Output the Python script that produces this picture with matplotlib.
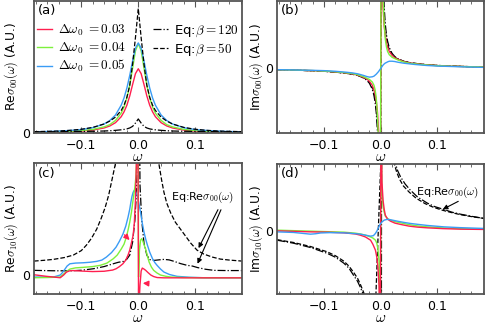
import numpy as np
import matplotlib
matplotlib.use("Agg")
import matplotlib.pyplot as plt

plt.rcParams['mathtext.fontset'] = 'cm'
plt.rcParams['font.family'] = ['DejaVu Sans']

RED = '#ff1f4f'
GREEN = '#7df03c'
BLUE = '#3a9cf5'
FRAME = '#555555'

# ---------------- (a) Re sigma_00 ----------------
xa = [-0.183, -0.16, -0.14, -0.12, -0.10, -0.08, -0.06, -0.05, -0.04, -0.03, -0.025, -0.02, -0.015, -0.01, -0.005,
      0.0, 0.005, 0.01, 0.015, 0.02, 0.025, 0.03, 0.04, 0.05, 0.06, 0.08, 0.10, 0.12, 0.14, 0.16, 0.182]
red_a = [0.005, 0.006, 0.0075, 0.01, 0.014, 0.022, 0.038, 0.053, 0.078, 0.123, 0.16, 0.21, 0.28, 0.366, 0.448,
         0.485, 0.448, 0.366, 0.28, 0.21, 0.16, 0.123, 0.078, 0.053, 0.038, 0.022, 0.014, 0.01, 0.0075, 0.006, 0.005]
green_a = [0.006, 0.008, 0.010, 0.013, 0.018, 0.027, 0.046, 0.063, 0.095, 0.15, 0.197, 0.265, 0.36, 0.49, 0.62,
           0.675, 0.62, 0.49, 0.36, 0.265, 0.197, 0.15, 0.095, 0.063, 0.046, 0.027, 0.018, 0.013, 0.010, 0.008, 0.006]
blue_a = [0.009, 0.011, 0.014, 0.019, 0.026, 0.040, 0.068, 0.094, 0.136, 0.21, 0.265, 0.34, 0.435, 0.544, 0.64,
          0.68, 0.64, 0.544, 0.435, 0.34, 0.265, 0.21, 0.136, 0.094, 0.068, 0.040, 0.026, 0.019, 0.014, 0.011, 0.009]
b50_a = [0.01, 0.012, 0.015, 0.02, 0.028, 0.042, 0.068, 0.09, 0.12, 0.17, 0.21, 0.27, 0.36, 0.52, 0.72,
         0.94, 0.72, 0.52, 0.36, 0.27, 0.21, 0.17, 0.12, 0.09, 0.068, 0.042, 0.028, 0.02, 0.015, 0.012, 0.01]
b120_a = [0.008, 0.009, 0.01, 0.011, 0.012, 0.013, 0.015, 0.017, 0.02, 0.024, 0.027, 0.031, 0.038, 0.05, 0.075,
          0.106, 0.075, 0.05, 0.038, 0.031, 0.027, 0.024, 0.02, 0.017, 0.015, 0.013, 0.012, 0.011, 0.01, 0.009, 0.008]

# ---------------- (b) Im sigma_00 ----------------
xb = [-0.183, -0.15, -0.12, -0.1, -0.08, -0.06, -0.05, -0.04, -0.03, -0.025, -0.02, -0.015, -0.012, -0.01, -0.008,
      -0.006, -0.004, -0.002, -0.001,
      0.001, 0.002, 0.004, 0.006, 0.008, 0.01, 0.012, 0.015, 0.02, 0.025, 0.03, 0.04, 0.05, 0.06, 0.08, 0.1,
      0.12, 0.15, 0.182]
b120_b = [-0.02, -0.028, -0.037, -0.045, -0.058, -0.077, -0.09, -0.11, -0.15, -0.18, -0.23, -0.32, -0.42, -0.52,
          -0.68, -0.95, -1.5, -3, -6,
          6, 3, 1.5, 0.95, 0.68, 0.52, 0.42, 0.32, 0.23, 0.18, 0.15, 0.11, 0.09, 0.077, 0.058, 0.045, 0.037, 0.028, 0.02]
b50_b = [-0.02, -0.028, -0.037, -0.045, -0.058, -0.077, -0.09, -0.11, -0.145, -0.17, -0.21, -0.29, -0.36, -0.45,
         -0.58, -0.8, -1.2, -2.4, -5,
         5, 2.4, 1.2, 0.8, 0.58, 0.45, 0.36, 0.29, 0.21, 0.17, 0.145, 0.11, 0.09, 0.077, 0.058, 0.045, 0.037, 0.028, 0.02]
red_b = [-0.02, -0.027, -0.035, -0.043, -0.055, -0.073, -0.085, -0.105, -0.14, -0.16, -0.2, -0.26, -0.33, -0.4,
         -0.5, -0.65, -0.95, -1.6, -3,
         3, 1.6, 0.95, 0.65, 0.5, 0.4, 0.33, 0.26, 0.2, 0.16, 0.14, 0.105, 0.085, 0.073, 0.055, 0.043, 0.035, 0.027, 0.02]
green_b = [-0.02, -0.027, -0.034, -0.042, -0.053, -0.07, -0.08, -0.1, -0.13, -0.15, -0.17, -0.21, -0.26, -0.33,
           -0.45, -0.7, -1.1, -2, -4,
           4, 2, 1.1, 0.7, 0.45, 0.33, 0.26, 0.21, 0.17, 0.15, 0.13, 0.1, 0.08, 0.07, 0.053, 0.042, 0.034, 0.027, 0.02]
blue_b = [-0.02, -0.025, -0.03, -0.035, -0.045, -0.06, -0.07, -0.085, -0.11, -0.125, -0.135, -0.13, -0.12, -0.105,
          -0.09, -0.07, -0.05, -0.025, -0.012,
          0.012, 0.025, 0.05, 0.068, 0.082, 0.09, 0.1, 0.11, 0.11, 0.105, 0.095, 0.08, 0.07, 0.06, 0.045, 0.035,
          0.03, 0.022, 0.015]

# ---------------- (c) Re sigma_10 ----------------
red_cx = [-0.183, -0.161, -0.145, -0.137, -0.131, -0.126, -0.12, -0.114, -0.1, -0.08, -0.06, -0.045, -0.039, -0.033,
          -0.027, -0.022, -0.018, -0.015, -0.013, -0.011, -0.009, -0.007, -0.005, -0.003, -0.001, 0.0005, 0.003,
          0.005, 0.007, 0.01, 0.013, 0.017, 0.022, 0.027, 0.033, 0.045, 0.07, 0.1, 0.14, 0.182]
red_cy = [0.003, -0.013, -0.022, -0.027, 0.0, 0.03, 0.043, 0.045, 0.04, 0.035, 0.038, 0.05, 0.063, 0.085,
          0.113, 0.15, 0.2, 0.25, 0.3, 0.35, 0.4, 0.52, 0.75, 1.2, 2.0, -0.4, -0.1,
          0.04, 0.07, 0.06, 0.047, 0.025, 0.0, -0.015, -0.025, -0.028, -0.028, -0.028, -0.028, -0.028]
green_cx = [-0.183, -0.16, -0.137, -0.131, -0.125, -0.12, -0.11, -0.097, -0.08, -0.067, -0.055, -0.044, -0.037,
            -0.03, -0.025, -0.021, -0.018, -0.015, -0.012, -0.009, -0.006, -0.004, -0.002, -0.0005, 0.0005, 0.002,
            0.004, 0.006, 0.008, 0.011, 0.013, 0.016, 0.019, 0.023, 0.027, 0.033, 0.039, 0.048, 0.057, 0.08, 0.12,
            0.182]
green_cy = [-0.027, -0.025, -0.02, 0.01, 0.04, 0.06, 0.072, 0.077, 0.085, 0.097, 0.12, 0.163, 0.2,
            0.26, 0.31, 0.38, 0.45, 0.53, 0.63, 0.76, 0.88, 1.0, 1.3, 2.0, -0.02, 0.25,
            0.35, 0.365, 0.34, 0.29, 0.26, 0.19, 0.13, 0.08, 0.047, 0.02, 0.0, -0.012, -0.02, -0.025, -0.027,
            -0.027]
blue_cx = [-0.183, -0.149, -0.137, -0.133, -0.129, -0.125, -0.12, -0.11, -0.097, -0.085, -0.073, -0.064, -0.056,
           -0.047, -0.039, -0.033, -0.027, -0.022, -0.018, -0.015, -0.013, -0.011, -0.009, -0.007, -0.005, -0.002,
           0.001, 0.004, 0.007, 0.01, 0.013, 0.016, 0.02, 0.025, 0.029, 0.033, 0.039, 0.045, 0.055, 0.068, 0.09,
           0.115, 0.182]
blue_cy = [-0.02, -0.02, 0.0, 0.025, 0.057, 0.09, 0.113, 0.12, 0.123, 0.128, 0.137, 0.15, 0.18,
           0.225, 0.28, 0.34, 0.41, 0.49, 0.58, 0.66, 0.73, 0.79, 0.83, 0.85, 0.84, 0.8,
           0.72, 0.63, 0.52, 0.43, 0.36, 0.3, 0.23, 0.163, 0.125, 0.097, 0.06, 0.03, 0.005, -0.013, -0.022,
           -0.027, -0.027]
b50_cx = [-0.183, -0.165, -0.149, -0.13, -0.114, -0.1, -0.091, -0.082, -0.073, -0.065, -0.058, -0.052, -0.046,
          -0.04, -0.03, 0.0, 0.03, 0.036, 0.041, 0.045, 0.05, 0.057, 0.065, 0.074, 0.083, 0.092, 0.103, 0.115,
          0.13, 0.144, 0.16, 0.182]
b50_cy = [0.14, 0.148, 0.157, 0.175, 0.2, 0.245, 0.3, 0.37, 0.46, 0.57, 0.68, 0.8, 0.96,
          1.12, 1.6, 5.0, 1.5, 1.12, 0.95, 0.83, 0.72, 0.62, 0.53, 0.46, 0.39, 0.32, 0.25, 0.21,
          0.18, 0.16, 0.15, 0.14]
b120_cx = [-0.183, -0.15, -0.12, -0.1, -0.079, -0.06, -0.044, -0.035, -0.026, -0.02, -0.015, -0.01, -0.006, -0.003,
           0.0, 0.003, 0.006, 0.01, 0.015, 0.02, 0.028, 0.036, 0.045, 0.054, 0.063, 0.074, 0.086, 0.095, 0.104,
           0.118, 0.133, 0.155, 0.182]
b120_cy = [0.047, 0.043, 0.042, 0.048, 0.063, 0.085, 0.113, 0.128, 0.137, 0.16, 0.2, 0.33, 0.55, 0.85,
           3.0, 0.9, 0.55, 0.32, 0.2, 0.155, 0.147, 0.152, 0.157, 0.152, 0.137, 0.115, 0.097, 0.09, 0.075,
           0.058, 0.047, 0.045, 0.045]

# ---------------- (d) Im sigma_10 ----------------
col_dx = [-0.183, -0.154, -0.124, -0.095, -0.065, -0.045, -0.036, -0.027, -0.018, -0.014, -0.0094, -0.007, -0.005,
          -0.003, -0.001, 0.0005, 0.002, 0.004, 0.006, 0.008, 0.012, 0.017, 0.025, 0.035, 0.05, 0.065, 0.082,
          0.11, 0.14, 0.182]
red_dy = [0.003, -0.002, -0.007, -0.01, -0.017, -0.028, -0.04, -0.058, -0.09, -0.13, -0.19, -0.26, -0.36,
          -0.55, -1.5, 1.5, 0.5, 0.31, 0.22, 0.16, 0.12, 0.1, 0.08, 0.067, 0.05, 0.04, 0.033,
          0.025, 0.02, 0.017]
green_dy = [0.01, 0.005, 0.0, -0.005, -0.01, -0.02, -0.028, -0.04, -0.058, -0.068, -0.09, -0.12, -0.18,
            -0.3, -1.2, 1.2, 0.4, 0.25, 0.19, 0.15, 0.125, 0.11, 0.095, 0.083, 0.065, 0.052, 0.043,
            0.032, 0.025, 0.02]
blue_dx = [-0.183, -0.154, -0.138, -0.124, -0.115, -0.106, -0.09, -0.065, -0.045, -0.036, -0.027, -0.018, -0.013,
           -0.0094, -0.0065, -0.0035, -0.001, 0.0024, 0.006, 0.011, 0.016, 0.022, 0.029, 0.04, 0.052, 0.065,
           0.082, 0.111, 0.14, 0.182]
blue_dy = [-0.007, -0.013, -0.022, -0.03, -0.026, -0.018, -0.015, -0.017, -0.025, -0.03, -0.04, -0.05, -0.045,
           -0.023, 0.005, 0.043, 0.07, 0.093, 0.11, 0.117, 0.115, 0.108, 0.1, 0.088, 0.077, 0.068,
           0.057, 0.043, 0.035, 0.027]
b50_dx = [-0.183, -0.154, -0.124, -0.095, -0.08, -0.065, -0.056, -0.048, -0.041, -0.036, -0.031, -0.027, -0.023,
          -0.009, 0.0005, 0.02, 0.024, 0.028, 0.033, 0.04, 0.05, 0.062, 0.078, 0.092, 0.108, 0.125, 0.14, 0.16,
          0.182]
b50_dy = [-0.085, -0.113, -0.153, -0.205, -0.245, -0.3, -0.35, -0.41, -0.47, -0.53, -0.6, -0.66, -0.8,
          -0.7, 0.75, 0.9, 0.67, 0.59, 0.52, 0.45, 0.39, 0.33, 0.275, 0.24, 0.21, 0.185, 0.165, 0.145,
          0.127]
b120_dx = [-0.183, -0.154, -0.124, -0.095, -0.08, -0.065, -0.056, -0.048, -0.041, -0.036, -0.031, -0.026,
           -0.015, 0.001, 0.0015, 0.022, 0.026, 0.03, 0.035, 0.043, 0.052, 0.065, 0.082, 0.095, 0.111, 0.125,
           0.14, 0.16, 0.182]
b120_dy = [-0.09, -0.12, -0.163, -0.22, -0.26, -0.32, -0.37, -0.44, -0.5, -0.56, -0.63, -0.8,
           -2.0, -2.0, 2.0, 0.9, 0.67, 0.6, 0.54, 0.47, 0.41, 0.34, 0.28, 0.245, 0.217, 0.19,
           0.17, 0.148, 0.127]

xlim = (-0.183, 0.182)

fig = plt.figure(figsize=(4.9, 3.27), dpi=100)
ax_a = fig.add_axes([0.0694, 0.5933, 0.4245, 0.405])
ax_b = fig.add_axes([0.5653, 0.5924, 0.4224, 0.405])
ax_c = fig.add_axes([0.0694, 0.1009, 0.4245, 0.3997])
ax_d = fig.add_axes([0.5653, 0.1000, 0.4224, 0.3985])


def style(ax, letter, ylabel, ylim, lab_x):
    ax.set_xlim(*xlim)
    ax.set_ylim(*ylim)
    for s in ax.spines.values():
        s.set_color(FRAME)
        s.set_linewidth(1.3)
    ax.set_xticks([-0.1, 0.0, 0.1])
    ax.set_xticklabels(['\u22120.1', '0.0', '0.1'])
    ax.set_xticks(np.arange(-0.18, 0.181, 0.02), minor=True)
    ax.set_yticks([0])
    ax.set_yticklabels(['0'])
    ax.tick_params(axis='x', which='both', direction='in', top=True, bottom=True,
                   color=FRAME, labelsize=9, pad=4)
    ax.tick_params(axis='x', which='major', length=4, width=0.8)
    ax.tick_params(axis='x', which='minor', length=2.5, width=0.6)
    ax.tick_params(axis='y', which='both', direction='in', length=0, labelsize=9, pad=3)
    ax.set_xlabel(r'$\omega$', fontsize=11)
    ax.xaxis.set_label_coords(0.5, -0.12)
    ax.set_ylabel(ylabel, fontsize=8.8)
    ax.yaxis.set_label_coords(lab_x, 0.5)
    ax.text(0.02, 0.975, letter, transform=ax.transAxes, ha='left', va='top', fontsize=9.5)


lw = 1.0

# (a)
l1, = ax_a.plot(xa, red_a, color=RED, lw=lw)
l2, = ax_a.plot(xa, green_a, color=GREEN, lw=lw)
l3, = ax_a.plot(xa, blue_a, color=BLUE, lw=lw)
l4, = ax_a.plot(xa, b120_a, color='k', lw=0.9, ls='-.')
l5, = ax_a.plot(xa, b50_a, color='k', lw=0.9, ls='--')
ax_a.legend([l1, l2, l3, l4, l5],
            [r'$\Delta\omega_0\;{=}0.03$', r'$\Delta\omega_0\;{=}0.04$', r'$\Delta\omega_0\;{=}0.05$',
             r'Eq:$\beta{=}120$', r'Eq:$\beta{=}50$'],
            ncol=2, loc='upper left', bbox_to_anchor=(0.012, 0.835), frameon=False, fontsize=9.5,
            handlelength=1.2, handletextpad=0.45, columnspacing=2.0, labelspacing=0.2,
            borderaxespad=0, borderpad=0)
style(ax_a, '(a)', r'Re$\sigma_{00}(\omega)$ (A.U.)', (0, 1.0), -0.068)

# (b)
ax_b.plot(xb, b120_b, color='k', lw=0.9, ls='-.')
ax_b.plot(xb, b50_b, color='k', lw=0.9, ls='--')
ax_b.plot(xb, red_b, color=RED, lw=lw)
ax_b.plot(xb, green_b, color=GREEN, lw=lw)
ax_b.plot(xb, blue_b, color=BLUE, lw=lw)
style(ax_b, '(b)', r'Im$\sigma_{00}(\omega)$ (A.U.)', (-1.0, 1.04), -0.058)

# (c)
ax_c.plot(b50_cx, b50_cy, color='k', lw=0.9, ls='--')
ax_c.plot(b120_cx, b120_cy, color='k', lw=0.9, ls='-.')
ax_c.plot(blue_cx, blue_cy, color=BLUE, lw=lw)
ax_c.plot(green_cx, green_cy, color=GREEN, lw=lw)
ax_c.plot(red_cx, red_cy, color=RED, lw=lw)
style(ax_c, '(c)', r'Re$\sigma_{10}(\omega)$ (A.U.)', (-0.19, 1.12), -0.068)
ax_c.annotate('', xy=(-0.0118, 0.33), xytext=(-0.0275, 0.423),
              arrowprops=dict(arrowstyle='-|>', color=RED, lw=1.0, mutation_scale=8))
ax_c.annotate('', xy=(0.003, -0.08), xytext=(0.0228, -0.087),
              arrowprops=dict(arrowstyle='-|>', color=RED, lw=1.0, mutation_scale=8))
ax_c.text(0.112, 0.78, r'Eq:Re$\sigma_{00}(\omega)$', ha='center', va='center', fontsize=8)
ax_c.annotate('', xy=(0.1035, 0.245), xytext=(0.142, 0.68),
              arrowprops=dict(arrowstyle='-|>', color='k', lw=0.8, mutation_scale=7))
ax_c.annotate('', xy=(0.102, 0.088), xytext=(0.147, 0.68),
              arrowprops=dict(arrowstyle='-|>', color='k', lw=0.8, mutation_scale=7))

# (d)
ax_d.plot(b120_dx, b120_dy, color='k', lw=0.9, ls='-.')
ax_d.plot(b50_dx, b50_dy, color='k', lw=0.9, ls='--')
ax_d.plot(col_dx, green_dy, color=GREEN, lw=lw)
ax_d.plot(col_dx, red_dy, color=RED, lw=lw)
ax_d.plot(blue_dx, blue_dy, color=BLUE, lw=lw)
style(ax_d, '(d)', r'Im$\sigma_{10}(\omega)$ (A.U.)', (-0.63, 0.67), -0.058)
ax_d.text(0.118, 0.385, r'Eq:Re$\sigma_{00}(\omega)$', ha='center', va='center', fontsize=8)
ax_d.annotate('', xy=(0.105, 0.205), xytext=(0.141, 0.31),
              arrowprops=dict(arrowstyle='-|>', color='k', lw=0.8, mutation_scale=7))

fig.savefig('out.png', dpi=100)
